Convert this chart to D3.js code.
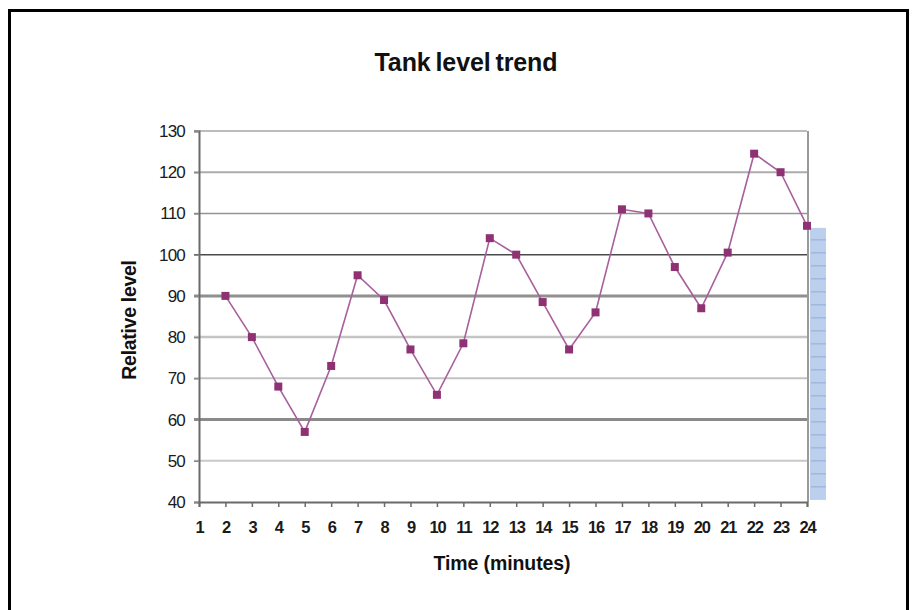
<!DOCTYPE html>
<html>
<head>
<meta charset="utf-8">
<script src="https://cdn.jsdelivr.net/npm/d3@7/dist/d3.min.js"></script>
<style>
  html, body { margin: 0; padding: 0; background: #fff; }
  svg { display: block; font-family: "Liberation Sans", Arial, sans-serif; }
</style>
</head>
<body>
<svg id="chart" width="918" height="610"></svg>
<script>
// Tank level readings, one per minute (minute 1 has no reading)
const minutes = [2, 3, 4, 5, 6, 7, 8, 9, 10, 11, 12, 13, 14, 15, 16, 17, 18, 19, 20, 21, 22, 23, 24];
const levels  = [90, 80, 68, 57, 73, 95, 89, 77, 66, 78.5, 104, 100, 88.5, 77, 86, 111, 110, 97, 87, 100.5, 124.5, 120, 107];
const xTickLabels = d3.range(1, 25);
const yTicks = [40, 50, 60, 70, 80, 90, 100, 110, 120, 130];

const chartTitle = "Tank level trend";
const xTitle = "Time (minutes)";
const yTitle = "Relative level";

const svg = d3.select("#chart");

// outer frame
svg.append("rect")
  .attr("x", 9.5).attr("y", 10.5)
  .attr("width", 898).attr("height", 640)
  .attr("fill", "#fff").attr("stroke", "#000").attr("stroke-width", 3);

const x = d3.scaleLinear().domain([1, 24]).range([199, 807]);
const y = d3.scaleLinear().domain([40, 130]).range([502, 131]);

// gridline weights vary from line to line
const gridStyle = {
  130: ["#a6a6a6", 1.5], 120: ["#acacac", 2], 110: ["#959595", 1.5],
  100: ["#4a4a4a", 1.5], 90: ["#8f8f8f", 3], 80: ["#c4c4c4", 2.5],
  70: ["#c2c2c2", 2], 60: ["#8a8a8a", 3], 50: ["#c8c8c8", 2]
};

svg.append("g").selectAll("line")
  .data(yTicks.filter(t => t > 40))
  .join("line")
  .attr("x1", x.range()[0] - 5).attr("x2", x.range()[1])
  .attr("y1", d => y(d)).attr("y2", d => y(d))
  .attr("stroke", d => gridStyle[d][0])
  .attr("stroke-width", d => gridStyle[d][1]);

// plot right edge
svg.append("line")
  .attr("x1", x.range()[1] + 1).attr("x2", x.range()[1] + 1)
  .attr("y1", y(130)).attr("y2", y(40))
  .attr("stroke", "#9a9a9a").attr("stroke-width", 2);

// selection strip to the right of the plot
const strip = svg.append("g");
const stripTop = y(106.5), stripBottom = y(40.5);
strip.append("rect")
  .attr("x", x.range()[1] + 3).attr("y", stripTop)
  .attr("width", 16).attr("height", stripBottom - stripTop)
  .attr("fill", "#bcd0ee");
strip.selectAll("line.row")
  .data(d3.range(stripTop + 12, stripBottom - 4, 13))
  .join("line")
  .attr("x1", x.range()[1] + 4).attr("x2", x.range()[1] + 19)
  .attr("y1", d => d).attr("y2", d => d)
  .attr("stroke", "#92acd6").attr("stroke-width", 1);

// y axis
const yAxis = svg.append("g")
  .attr("transform", `translate(${x.range()[0]},0)`)
  .call(d3.axisLeft(y).tickValues(yTicks).tickSize(5).tickPadding(9));
yAxis.select(".domain").attr("stroke", "#6a6a6a").attr("stroke-width", 2);
yAxis.selectAll(".tick line").attr("stroke", "#8a8a8a").attr("stroke-width", 1.5);
yAxis.selectAll(".tick text")
  .attr("font-size", 17).attr("fill", "#1a1a1a")
  .attr("letter-spacing", -0.8)
  .attr("font-family", "'Liberation Sans', Arial, sans-serif");

// x axis
const xAxis = svg.append("g")
  .attr("transform", `translate(0,${y(40)})`)
  .call(d3.axisBottom(x).tickValues(xTickLabels).tickFormat(d3.format("d")).tickSize(5).tickPadding(14));
xAxis.select(".domain").attr("stroke", "#6a6a6a").attr("stroke-width", 2);
xAxis.selectAll(".tick line").attr("stroke", "#6a6a6a").attr("stroke-width", 1.5);
xAxis.selectAll(".tick text")
  .attr("font-size", 16.5).attr("font-weight", "bold").attr("fill", "#1a1a1a")
  .attr("letter-spacing", -1.2)
  .attr("font-family", "'Liberation Sans', Arial, sans-serif");

// series line and markers
const pts = minutes.map((m, i) => [m, levels[i]]);
svg.append("path")
  .datum(pts)
  .attr("fill", "none")
  .attr("stroke", "#a8609c")
  .attr("stroke-width", 1.6)
  .attr("d", d3.line().x(d => x(d[0])).y(d => y(d[1])));

svg.append("g").selectAll("rect")
  .data(pts)
  .join("rect")
  .attr("x", d => x(d[0]) - 4).attr("y", d => y(d[1]) - 4)
  .attr("width", 8).attr("height", 8)
  .attr("fill", "#8e3274");

// titles
svg.append("text")
  .attr("x", 466).attr("y", 71)
  .attr("text-anchor", "middle")
  .attr("font-size", 25).attr("font-weight", "bold").attr("fill", "#111")
  .attr("letter-spacing", -0.1)
  .attr("word-spacing", -2)
  .text(chartTitle);

svg.append("text")
  .attr("x", 502).attr("y", 570)
  .attr("text-anchor", "middle")
  .attr("font-size", 19.5).attr("font-weight", "bold").attr("fill", "#111")
  .attr("letter-spacing", -0.1)
  .text(xTitle);

svg.append("text")
  .attr("transform", "translate(136,320) rotate(-90)")
  .attr("text-anchor", "middle")
  .attr("font-size", 19.5).attr("font-weight", "bold").attr("fill", "#111")
  .attr("letter-spacing", -0.3)
  .text(yTitle);
</script>
</body>
</html>
